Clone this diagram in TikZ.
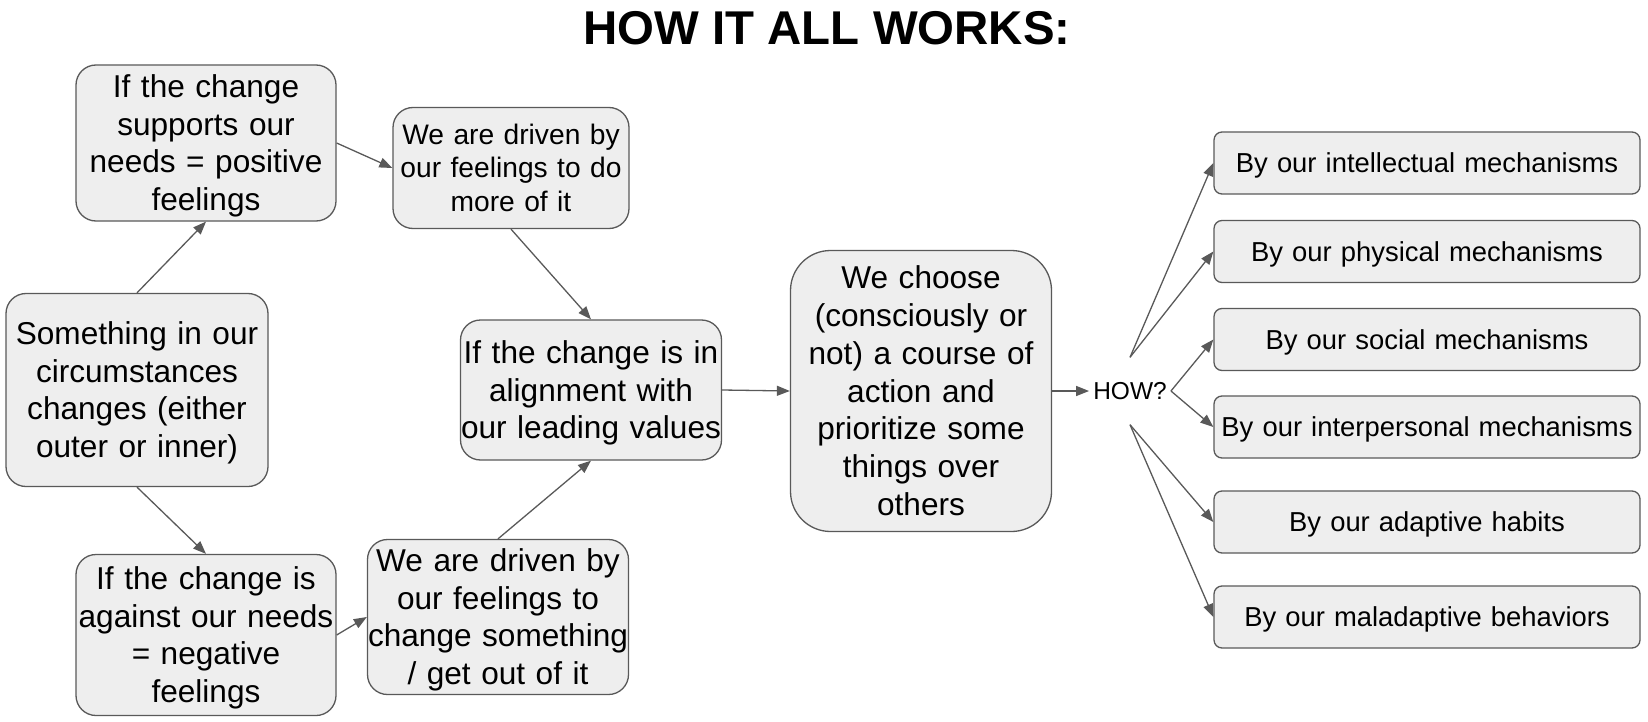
\documentclass[tikz,border=0pt]{standalone}
\usepackage{fontspec}
\setmainfont{Liberation Sans}
\usetikzlibrary{arrows.meta}

\definecolor{boxfill}{HTML}{EEEEEE}
\definecolor{boxline}{HTML}{595959}

% line boxes as in the drawing program
\newcommand{\boxtopstrut}{\rule{0pt}{0.95em}}
\newcommand{\boxbotstrut}{\rule[-0.25em]{0pt}{0pt}}

\begin{document}
\begin{tikzpicture}[
		x=1pt, y=-1pt,
		box/.style={draw=boxline, fill=boxfill, line width=1.3pt, rounded corners=20pt, align=center, inner sep=0pt,
			font=\fontsize{31.6}{37.8}\selectfont, execute at begin node=\boxtopstrut, execute at end node=\boxbotstrut},
		smallbox/.style={box, font=\fontsize{28.2}{33.6}\selectfont},
		waybox/.style={box, rounded corners=8pt, text width=426pt, minimum height=62pt, font=\fontsize{27.4}{33}\selectfont},
		arr/.style={-{Triangle[length=13pt, width=10pt]}, draw=boxline, line width=1.3pt}
	]
		\useasboundingbox (0,0) rectangle (1648,722);
		
		% Title
		\node[font=\bfseries\fontsize{47.4}{52}\selectfont] (title) at (827,28) {HOW IT ALL WORKS:};
		
		% Start
		\node[box, text width=262pt, minimum height=193pt] (something) at (137,390) {Something in our\\ circumstances\\ changes (either\\ outer or inner)};
		
		% Needs
		\node[box, text width=260pt, minimum height=156pt] (supports) at (206,143) {If the change\\ supports our\\ needs = positive\\ feelings};
		\node[box, text width=260pt, minimum height=161pt] (against) at (206,635) {If the change is\\ against our needs\\ = negative\\ feelings};
		
		% Feelings
		\node[smallbox, text width=236pt, minimum height=121pt] (domore) at (511,168) {We are driven by\\ our feelings to do\\ more of it};
		\node[box, text width=261pt, minimum height=155pt] (getout) at (498,617) {We are driven by\\ our feelings to\\ change something\\ / get out of it};
		
		% Values and choice
		\node[box, text width=261pt, minimum height=140pt] (values) at (591,390) {If the change is in\\ alignment with\\ our leading values};
		\node[box, rounded corners=40pt, text width=261pt, minimum height=281pt] (choose) at (921,391) {We choose\\ (consciously or\\ not) a course of\\ action and\\ prioritize some\\ things over\\ others};
		\node[font=\fontsize{24.5}{29}\selectfont, minimum height=67pt, inner xsep=4pt, inner ysep=0pt] (how) at (1130,391) {HOW?};
		
		% Ways
		\node[waybox] (intellectual) at (1427,163) {By our intellectual mechanisms};
		\node[waybox] (physical) at (1427,251.5) {By our physical mechanisms};
		\node[waybox] (social) at (1427,339.5) {By our social mechanisms};
		\node[waybox] (interpersonal) at (1427,427) {By our interpersonal mechanisms};
		\node[waybox] (adaptive) at (1427,522) {By our adaptive habits};
		\node[waybox] (maladaptive) at (1427,617) {By our maladaptive behaviors};
		
		% Edges
		\draw[arr] (something.north) -- (supports.south);
		\draw[arr] (something.south) -- (against.north);
		\draw[arr] (supports.east) -- (domore.west);
		\draw[arr] (against.east) -- (getout.west);
		\draw[arr] (domore.south) -- (values.north);
		\draw[arr] (getout.north) -- (values.south);
		\draw[arr] (values.east) -- (choose.west);
		\draw[arr] (choose.east) -- (how.west);
		\draw[arr] (how.north) -- (intellectual.west);
		\draw[arr] (how.north) -- (physical.west);
		\draw[arr] (how.east) -- (social.west);
		\draw[arr] (how.east) -- (interpersonal.west);
		\draw[arr] (how.south) -- (adaptive.west);
		\draw[arr] (how.south) -- (maladaptive.west);
	\end{tikzpicture}
\end{document}
